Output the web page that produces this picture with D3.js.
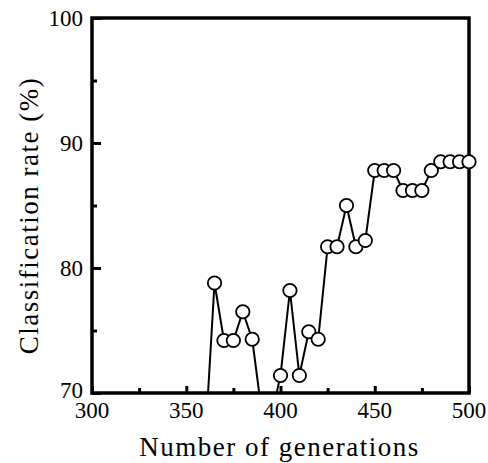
<!DOCTYPE html>
<html><head><meta charset="utf-8">
<script src="https://cdn.jsdelivr.net/npm/d3@7"></script>
<style>body{margin:0;background:#fff}svg{display:block}</style>
</head><body>
<script>
const generations = [360,365,370,375,380,385,390,395,400,405,410,415,420,425,430,435,440,445,450,455,460,465,470,475,480,485,490,495,500];
const rates =       [66.0,78.8,74.2,74.2,76.5,74.3,68.5,68.0,71.4,78.2,71.4,74.9,74.3,81.7,81.7,85.0,81.7,82.2,87.8,87.8,87.8,86.2,86.2,86.2,87.8,88.5,88.5,88.5,88.5];
const xTickLabels = [300,350,400,450,500];
const xMinorTicks = [325,375,425,475];
const yTickLabels = [70,80,90,100];
const yMinorTicks = [75,85,95];

const W=488,H=463;
const m={left:92,right:19,top:18,bottom:70};
const svg=d3.select("body").append("svg").attr("width",W).attr("height",H);
const x=d3.scaleLinear().domain([300,500]).range([m.left,W-m.right]);
const y=d3.scaleLinear().domain([70,100]).range([H-m.bottom,m.top]);

svg.append("clipPath").attr("id","clip").append("rect")
  .attr("x",m.left).attr("y",0).attr("width",W-m.left).attr("height",y(70));

const data=generations.map((d,i)=>({g:d,r:rates[i]}));

// ticks (inward)
const bx=svg.append("g").attr("transform",`translate(0,${y(70)})`)
  .call(d3.axisBottom(x).tickValues(xTickLabels).tickSize(-7).tickFormat(""));
const bxm=svg.append("g").attr("transform",`translate(0,${y(70)})`)
  .call(d3.axisBottom(x).tickValues(xMinorTicks).tickSize(-5).tickFormat(""));
const ly=svg.append("g").attr("transform",`translate(${x(300)},0)`)
  .call(d3.axisLeft(y).tickValues(yTickLabels).tickSize(-9).tickFormat(""));
const lym=svg.append("g").attr("transform",`translate(${x(300)},0)`)
  .call(d3.axisLeft(y).tickValues(yMinorTicks).tickSize(-5).tickFormat(""));
[bx,bxm,ly,lym].forEach(a=>{a.select(".domain").remove();a.selectAll("text").remove();
  a.attr("font-family",null).attr("font-size",null);
  a.selectAll("line").attr("stroke","#000").attr("stroke-width",3);});

// tick labels: plain text elements directly in the svg, no transform
svg.selectAll("text.xl").data(xTickLabels).join("text").attr("class","xl")
  .attr("x",d=>x(d)).attr("y",y(70)+9).attr("dy","0.71em").attr("text-anchor","middle")
  .style("font-family",'"Liberation Serif"').attr("font-size",23).attr("fill","#000")
  .text(d3.format("d"));
svg.selectAll("text.yl").data(yTickLabels).join("text").attr("class","yl")
  .attr("x",x(300)-9).attr("y",d=>y(d)).attr("dy",d=>d===70?"0.2em":"0.33em").attr("text-anchor","end")
  .style("font-family",'"Liberation Serif"').attr("font-size",23).attr("fill","#000")
  .text(d3.format("d"));

// frame
svg.append("rect").attr("x",m.left).attr("y",m.top).attr("width",x(500)-m.left).attr("height",y(70)-m.top)
  .attr("fill","none").attr("stroke","#000").attr("stroke-width",3.5);

const g=svg.append("g").attr("clip-path","url(#clip)");
g.append("path").datum(data)
  .attr("d",d3.line().x(d=>x(d.g)).y(d=>y(d.r)))
  .attr("fill","none").attr("stroke","#000").attr("stroke-width",2);
g.selectAll("circle").data(data).join("circle")
  .attr("cx",d=>x(d.g)).attr("cy",d=>y(d.r)).attr("r",6.7)
  .attr("fill","#fff").attr("stroke","#000").attr("stroke-width",1.8);

// axis titles at 27px (the size that rendered as serif in testing), widened with letter-spacing
svg.append("text").attr("x",(x(300)+x(500))/2-1).attr("y",456).attr("text-anchor","middle")
  .style("font-family",'"Liberation Serif"').attr("font-size",27).attr("letter-spacing",1.5)
  .attr("fill","#000").text("Number of generations");
svg.append("text").attr("transform",`translate(38,${(y(70)+y(100))/2+10}) rotate(-90)`).attr("text-anchor","middle")
  .style("font-family",'"Liberation Serif"').attr("font-size",27).attr("letter-spacing",1.5)
  .attr("fill","#000").text("Classification rate (%)");
</script>
</body></html>
